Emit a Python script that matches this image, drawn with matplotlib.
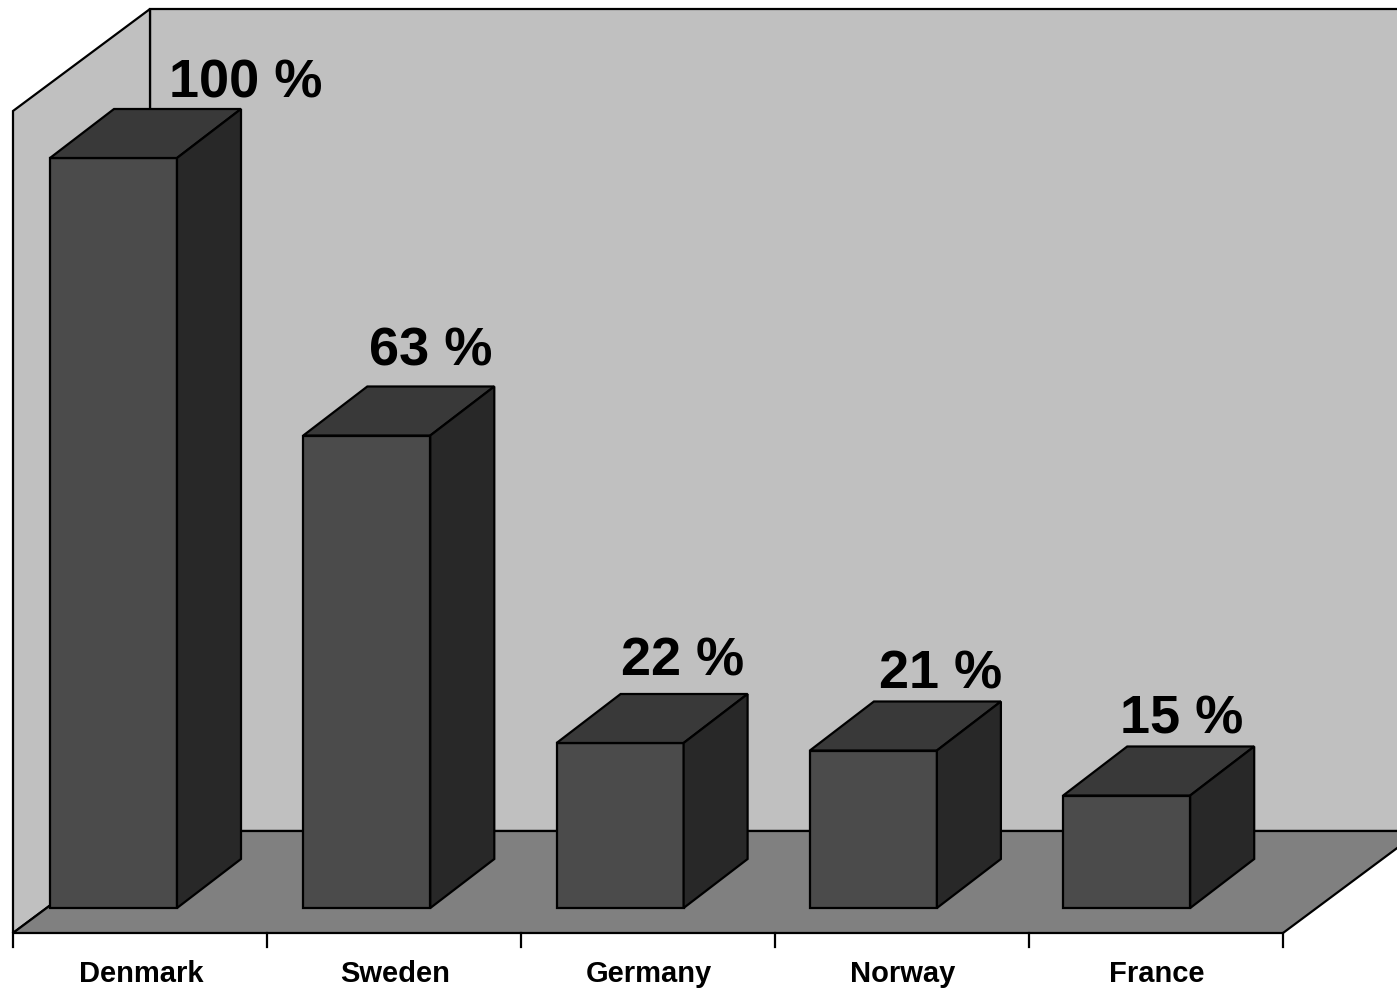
import matplotlib
matplotlib.use("Agg")
import matplotlib.pyplot as plt
from matplotlib.patches import Polygon

# ---- data ----
categories = ["Denmark", "Sweden", "Germany", "Norway", "France"]
values = [100, 63, 22, 21, 15]
value_labels = ["100 %", "63 %", "22 %", "21 %", "15 %"]

# ---- layout (pixel space of a 1397x991 canvas) ----
W, H = 1397, 991
X0, YF = 13, 933           # front-left corner of floor
SLOT = 254                 # category slot width at the front edge
DEPTH = (137, -102)        # full floor depth vector
WALL_TOP = 9
BAR_PITCH = 253.3
BAR_X0 = 50
BAR_W = 127
BAR_BASE = 908
BAR_DEPTH = (64, -49)
PX_PER_UNIT = 7.5
# (x offset of label centre from bar centre, baseline offset above bar top-back edge)
label_offsets = [(132, -12), (64, -21), (62, -18), (67, -13), (55, -13)]

C_WALL = "#c0c0c0"
C_FLOOR = "#808080"
C_FRONT = "#4b4b4b"
C_TOP = "#393939"
C_SIDE = "#282828"

plt.rcParams["font.family"] = ["Liberation Sans", "DejaVu Sans"]

fig = plt.figure(figsize=(W / 100, H / 100), dpi=100)
ax = fig.add_axes([0, 0, 1, 1])
ax.set_xlim(0, W)
ax.set_ylim(H, 0)
ax.axis("off")

lw = 1.6
bx, by = X0 + DEPTH[0], YF + DEPTH[1]   # back-left floor corner
n = len(categories)
xr = X0 + n * SLOT                      # front-right floor x
xfar = W + 50
yfar = YF + DEPTH[1] * ((xfar - xr) / DEPTH[0])

# back wall
ax.add_patch(Polygon([(bx, WALL_TOP), (xfar, WALL_TOP), (xfar, by), (bx, by)],
                     closed=True, facecolor=C_WALL, edgecolor="black", lw=lw, zorder=1))
# left wall
ax.add_patch(Polygon([(X0, WALL_TOP - DEPTH[1]), (bx, WALL_TOP), (bx, by), (X0, YF)],
                     closed=True, facecolor=C_WALL, edgecolor="black", lw=lw, zorder=2))
# floor
ax.add_patch(Polygon([(X0, YF), (bx, by), (xfar, by), (xfar, yfar), (xr, YF)],
                     closed=True, facecolor=C_FLOOR, edgecolor="black", lw=lw, zorder=3))

# ticks and category labels
for i in range(n + 1):
    x = X0 + i * SLOT
    ax.plot([x, x], [YF, YF + 14], color="black", lw=lw, zorder=4)
for i, c in enumerate(categories):
    ax.text(X0 + (i + 0.5) * SLOT + 1, 982, c, ha="center", va="baseline",
            fontsize=21, fontweight="bold", color="black", zorder=6)

# bars
dx, dy = BAR_DEPTH
for i, v in enumerate(values):
    x1 = BAR_X0 + i * BAR_PITCH
    x2 = x1 + BAR_W
    yb = BAR_BASE
    yt = BAR_BASE - v * PX_PER_UNIT
    z = 5
    ax.add_patch(Polygon([(x1, yb), (x2, yb), (x2, yt), (x1, yt)], closed=True,
                         facecolor=C_FRONT, edgecolor="black", lw=lw, zorder=z, joinstyle="miter"))
    ax.add_patch(Polygon([(x1, yt), (x2, yt), (x2 + dx, yt + dy), (x1 + dx, yt + dy)], closed=True,
                         facecolor=C_TOP, edgecolor="black", lw=lw, zorder=z, joinstyle="miter"))
    ax.add_patch(Polygon([(x2, yb), (x2 + dx, yb + dy), (x2 + dx, yt + dy), (x2, yt)], closed=True,
                         facecolor=C_SIDE, edgecolor="black", lw=lw, zorder=z, joinstyle="miter"))
    ox, oy = label_offsets[i]
    ax.text(x1 + BAR_W / 2 + ox, yt + dy + oy, value_labels[i], ha="center", va="baseline",
            fontsize=39, fontweight="bold", color="black", zorder=7)

fig.savefig("out.png", dpi=100, facecolor="white")
